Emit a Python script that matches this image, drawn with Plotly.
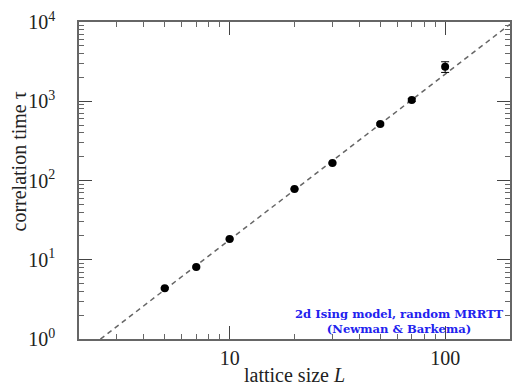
import plotly.graph_objects as go
import numpy as np

# data
L_values = [5, 7, 10, 20, 30, 50, 70, 100]
tau_values = [4.36, 8.1, 18.3, 78.1, 166, 516, 1037, 2730]
tau_errors = [0.1, 0.2, 0.4, 1.5, 4, 15, 40, 420]

# power-law fit tau = A * L^z
fit_A = 0.145
fit_z = 2.09
fit_L = [2, 200]
fit_tau = [fit_A * L ** fit_z for L in fit_L]

y_tickvals = [1, 10, 100, 1000, 10000]
y_ticktext = ["10<sup>0</sup>", "10<sup>1</sup>", "10<sup>2</sup>", "10<sup>3</sup>", "10<sup>4</sup>"]
x_tickvals = [10, 100]
x_ticktext = ["10", "100"]

serif = "Liberation Serif, Times New Roman, serif"

fig = go.Figure()
fig.add_trace(go.Scatter(
    x=fit_L, y=fit_tau, mode="lines",
    line=dict(color="#666666", width=1.5, dash="5px,4px"),
    showlegend=False, hoverinfo="skip"))
fig.add_trace(go.Scatter(
    x=L_values, y=tau_values, mode="markers",
    marker=dict(color="black", size=8),
    error_y=dict(type="data", array=tau_errors, color="black", thickness=1, width=4),
    showlegend=False))

x_minor = [m * 10 ** e for e in range(0, 3) for m in range(2, 10) if 2 < m * 10 ** e <= 200]
y_minor = [m * 10 ** e for e in range(0, 4) for m in range(2, 10)]

axis_common = dict(
    type="log", showgrid=False, zeroline=False,
    showline=True, linecolor="#666666", linewidth=1.5,
    mirror="ticks", ticks="inside", ticklen=13, tickwidth=1.2, tickcolor="#444444",
    tickfont=dict(family=serif, size=20, color="#222222"),
)

fig.update_xaxes(
    **axis_common,
    range=[np.log10(2), np.log10(200)],
    tickmode="array", tickvals=x_tickvals, ticktext=x_ticktext,
    minor=dict(tickmode="array", tickvals=x_minor, ticks="inside", ticklen=5,
               tickwidth=1, tickcolor="#666666", showgrid=False),
    ticklabelstandoff=0,
)
fig.update_yaxes(
    **axis_common,
    range=[0, 4],
    tickmode="array", tickvals=y_tickvals, ticktext=y_ticktext,
    minor=dict(tickmode="array", tickvals=y_minor, ticks="inside", ticklen=5,
               tickwidth=1, tickcolor="#666666", showgrid=False),
    ticklabelstandoff=18,
)

fig.add_annotation(
    text="lattice size <i>L</i>", xref="paper", yref="paper",
    x=0.5, y=0, yshift=-49, xanchor="center", yanchor="bottom", showarrow=False,
    font=dict(family=serif, size=20, color="#222222"))
fig.add_annotation(
    text="correlation time τ", xref="paper", yref="paper",
    x=0, y=0.56, xshift=-60, xanchor="center", yanchor="middle", textangle=-90,
    showarrow=False, font=dict(family=serif, size=20, color="#222222"))
fig.add_annotation(
    text="<b>2d Ising model, random MRRTT</b><br><b>(Newman &amp; Barkema)</b>",
    xref="paper", yref="paper", x=0.742, y=0.055, xanchor="center", yanchor="middle",
    showarrow=False, align="center",
    font=dict(family="DejaVu Serif", size=11.6, color="#2222ee"))

fig.update_layout(
    width=513, height=388,
    margin=dict(l=79, r=1, t=22, b=49),
    paper_bgcolor="white", plot_bgcolor="white",
)

fig.write_html("out.html")
